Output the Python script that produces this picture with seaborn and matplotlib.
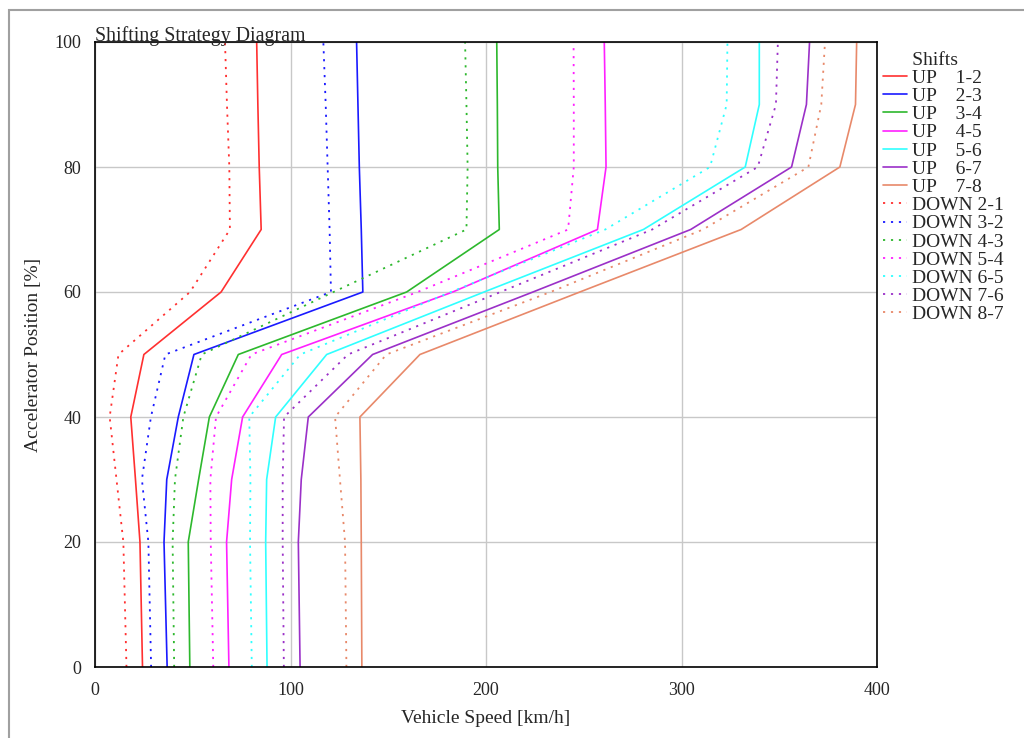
import matplotlib
matplotlib.use("Agg")
import matplotlib.pyplot as plt
import seaborn as sns
import pandas as pd
from matplotlib.patches import Rectangle

# ---- data ----
pedal = [0, 20, 30, 40, 50, 60, 70, 80, 90, 100]

up_12 = [24.3, 23.0, 20.7, 18.3, 25.0, 64.5, 85.0, 84.0, 83.3, 82.7]
up_23 = [36.9, 35.3, 36.7, 42.6, 50.6, 137.0, 136.2, 135.2, 134.5, 133.8]
up_34 = [48.5, 47.7, 53.0, 58.5, 73.3, 159.4, 206.8, 206.0, 205.8, 205.5]
up_45 = [68.5, 67.3, 69.9, 75.5, 95.5, 183.0, 257.0, 261.4, 261.0, 260.5]
up_56 = [88.0, 87.3, 87.8, 92.4, 118.5, 199.0, 280.5, 332.6, 339.8, 339.8]
up_67 = [104.9, 104.0, 105.5, 109.1, 142.0, 224.0, 304.7, 356.3, 363.9, 365.5]
up_78 = [136.5, 136.2, 136.0, 135.5, 166.2, 248.0, 330.5, 381.0, 389.0, 389.6]

down_21 = [16.1, 14.5, 11.0, 7.5, 12.0, 48.6, 69.0, 68.7, 67.5, 66.5]
down_32 = [28.7, 27.3, 24.0, 28.6, 36.0, 120.7, 120.0, 119.0, 118.0, 116.8]
down_43 = [40.5, 39.7, 40.9, 45.2, 54.6, 122.0, 190.0, 190.6, 190.0, 189.3]
down_54 = [60.5, 59.2, 59.0, 61.9, 80.0, 165.0, 242.0, 244.9, 244.9, 244.8]
down_65 = [80.2, 79.3, 79.5, 78.9, 105.0, 182.0, 261.0, 314.6, 323.1, 323.5]
down_76 = [96.6, 96.0, 96.0, 96.7, 129.4, 207.4, 285.0, 339.0, 348.3, 349.3]
down_87 = [128.6, 127.9, 125.3, 122.8, 149.0, 233.0, 311.0, 364.9, 371.5, 373.4]

up_labels = ["UP    1-2", "UP    2-3", "UP    3-4", "UP    4-5",
             "UP    5-6", "UP    6-7", "UP    7-8"]
down_labels = ["DOWN 2-1", "DOWN 3-2", "DOWN 4-3", "DOWN 5-4",
               "DOWN 6-5", "DOWN 7-6", "DOWN 8-7"]
colors = ["#ff3030", "#1a1aff", "#2db82d", "#ff20ff", "#30ffff", "#9b30c8", "#e8896a"]

up_series = [up_12, up_23, up_34, up_45, up_56, up_67, up_78]
down_series = [down_21, down_32, down_43, down_54, down_65, down_76, down_87]

# ---- plot ----
sns.set_style("white")
plt.rcParams['font.family'] = ['Liberation Serif', 'DejaVu Serif']

fig = plt.figure(figsize=(10.24, 7.38), dpi=100)
ax = fig.add_axes([95/1024, 71/738, (877-95)/1024, (667-42)/738])

# outer gray frame
fig.patches.append(Rectangle((9/1024, -0.1), 1.2, (738-10)/738 + 0.1,
                             transform=fig.transFigure, fill=False,
                             edgecolor="#a0a0a0", linewidth=1.5))

for lab, col, vals in zip(up_labels, colors, up_series):
    df = pd.DataFrame({"speed": vals, "pedal": pedal})
    sns.lineplot(data=df, x="speed", y="pedal", sort=False, ax=ax,
                 color=col, linewidth=1.2, label=lab, estimator=None)
for lab, col, vals in zip(down_labels, colors, down_series):
    df = pd.DataFrame({"speed": vals, "pedal": pedal})
    sns.lineplot(data=df, x="speed", y="pedal", sort=False, ax=ax,
                 color=col, linewidth=1.3, label=lab, estimator=None,
                 linestyle=(0, (1.2, 3.2)))

ax.set_xlim(0, 400)
ax.set_ylim(0, 100)
ax.set_xticks([0, 100, 200, 300, 400])
ax.set_yticks([0, 20, 40, 60, 80, 100])
ax.grid(True, color="#c8c8c8", linewidth=1.0)
ax.set_axisbelow(True)
for s in ax.spines.values():
    s.set_color("black")
    s.set_linewidth(1.2)
ax.tick_params(axis="y", direction="in", length=7, width=1.2, labelsize=13, pad=10)
ax.tick_params(axis="x", length=0, labelsize=13, pad=11)

ax.set_xlabel("Vehicle Speed [km/h]", fontsize=14, labelpad=8)
ax.set_ylabel("Accelerator Position [%]", fontsize=14, labelpad=9)
ax.set_title("Shifting Strategy Diagram", fontsize=14.3, loc="left", pad=1)

leg = ax.legend(loc="upper left", bbox_to_anchor=(1.0, 0.994), frameon=False,
                title="      Shifts", fontsize=14, title_fontsize=14,
                handlelength=1.25, handletextpad=0.26, labelspacing=0.03,
                borderaxespad=0.0, borderpad=0.3)
leg._legend_box.align = "left"

fig.savefig("out.png", dpi=100)
